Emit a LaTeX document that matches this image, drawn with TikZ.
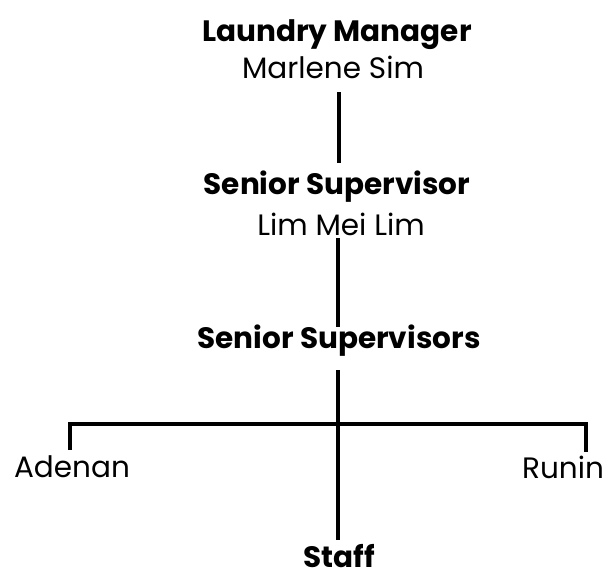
\documentclass[tikz,border=0pt]{standalone}
\usepackage{fontspec}
\setmainfont{Poppins}
\begin{document}
\begin{tikzpicture}[x=1pt,y=-1pt,
  title/.style={font=\fontsize{29.5}{34}\selectfont\bfseries, inner sep=0pt},
  person/.style={font=\fontsize{29.5}{34}\selectfont, inner sep=0pt},
  link/.style={line width=3.2pt}]
  \fill[white] (0,0) rectangle (611,582);
  \useasboundingbox (0,0) rectangle (611,582);

  % names and titles
  \node[title]  (lm)  at (337,35)  {Laundry Manager};
  \node[person] (ms)  at (333,67)  {Marlene Sim};
  \node[title]  (ss)  at (337,187) {Senior Supervisor};
  \node[person] (lml) at (341,224) {Lim Mei Lim};
  \node[title]  (sss) at (339,341) {Senior Supervisors};
  \node[person] (ad)  at (72,467)  {Adenan};
  \node[person] (ru)  at (563,467) {Runin};
  \node[title]  (st)  at (339,556) {Staff};

  % junction points of the tree
  \coordinate (a1) at (339,92);
  \coordinate (a2) at (339,163);
  \coordinate (b1) at (338,238);
  \coordinate (b2) at (338,327);
  \coordinate (c1) at (338,370);
  \coordinate (c2) at (338,540);
  \coordinate (hl) at (70,424);
  \coordinate (hr) at (586,424);
  \coordinate (dl) at (70,450);
  \coordinate (dr) at (586,452);

  \draw[link] (a1) -- (a2);
  \draw[link] (b1) -- (b2);
  \draw[link] (c1) -- (c2);
  \draw[link] (dl) -- (hl) -- (hr) -- (dr);
\end{tikzpicture}
\end{document}
